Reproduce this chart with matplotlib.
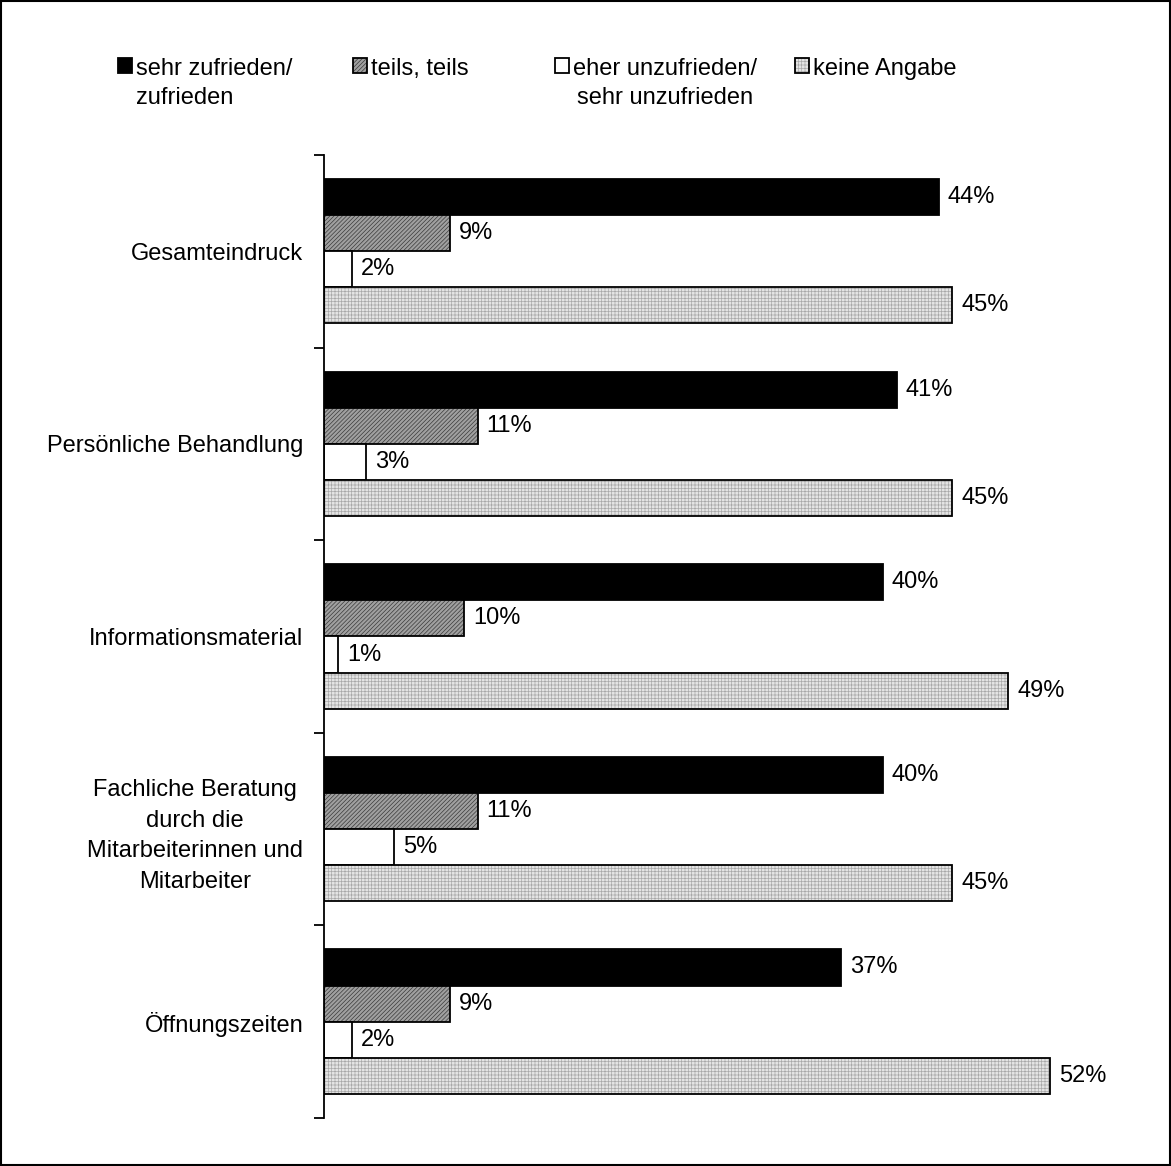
import numpy as np
import matplotlib
matplotlib.use('Agg')
import matplotlib.pyplot as plt
from matplotlib.patches import Rectangle

plt.rcParams['font.family'] = ['Liberation Sans', 'DejaVu Sans']
plt.rcParams['hatch.linewidth'] = 0.5

categories = ['Gesamteindruck', 'Persönliche Behandlung', 'Informationsmaterial',
              'Fachliche Beratung\ndurch die\nMitarbeiterinnen und\nMitarbeiter',
              'Öffnungszeiten']
series_names = ['sehr zufrieden/\nzufrieden', 'teils, teils',
                'eher unzufrieden/\nsehr unzufrieden', 'keine Angabe']
sehr_zufrieden = [44, 41, 40, 40, 37]
teils = [9, 11, 10, 11, 9]
unzufrieden = [2, 3, 1, 5, 2]
keine_angabe = [45, 45, 49, 45, 52]

values = [sehr_zufrieden, teils, unzufrieden, keine_angabe]
# style per series: facecolor, hatch, hatch color
styles = [('black', None, 'black'),
          ('#a0a0a0', '////////', '#3a3a3a'),
          ('white', None, 'black'),
          ('#e4e4e4', '+++++', '#a8a8a8')]
legend_x = [118, 353, 555, 795]   # legend entry positions in pixels
legend_align = ['left', 'left', 'center', 'left']

fs = 17
fig = plt.figure(figsize=(11.71, 11.66), dpi=100)
ax = fig.add_axes([0.2767, 0.0412, 0.7156, 0.8259])

y = np.arange(len(categories))
h = 0.1875
offsets = [-1.5 * h, -0.5 * h, 0.5 * h, 1.5 * h]
handles = []
for vals, off, (fc, hatch, hc), name in zip(values, offsets, styles, series_names):
    bars = ax.barh(y + off, vals, height=h, color=fc, edgecolor='black',
                   linewidth=1.3, hatch=hatch, label=name)
    if hatch:
        for b in bars:
            b._hatch_color = matplotlib.colors.to_rgba(hc)
    handles.append(bars)
    for b, v in zip(bars, vals):
        ax.text(b.get_width() + 0.65, b.get_y() + b.get_height() / 2, f'{v}%',
                va='center', ha='left', fontsize=fs)

ax.set_xlim(0, 60)
ax.set_ylim(len(categories) - 0.5, -0.5)
ax.set_xticks([])
ax.set_yticks(y)
ax.set_yticklabels(categories, fontsize=fs, multialignment='center', linespacing=1.5)
ax.set_yticks(np.arange(-0.5, len(categories) + 0.5, 1), minor=True)
ax.tick_params(axis='y', which='major', length=0, pad=15)
ax.tick_params(axis='y', which='minor', length=7, width=1.3, direction='out')
for s in ['top', 'right', 'bottom']:
    ax.spines[s].set_visible(False)
ax.spines['left'].set_linewidth(1.3)

# one legend per entry, placed like the original
for hnd, name, xp, al in zip(handles, series_names, legend_x, legend_align):
    leg = fig.legend([hnd], [name], loc='upper left',
                     bbox_to_anchor=(xp / 1171, 1 - 58 / 1166),
                     frameon=False, fontsize=fs, handlelength=0.6, handleheight=0.6,
                     handletextpad=0.15, borderpad=0, borderaxespad=0)
    for t in leg.get_texts():
        t.set_linespacing(1.4)
        t.set_multialignment(al)
    for col in leg._legend_handle_box.get_children():
        for item in col.get_children():
            item.align = 'top'

fig.patches.append(Rectangle((0.001, 0.001), 0.998, 0.998, transform=fig.transFigure,
                             fill=False, edgecolor='black', linewidth=1.5))

fig.savefig('out.png', dpi=100)
